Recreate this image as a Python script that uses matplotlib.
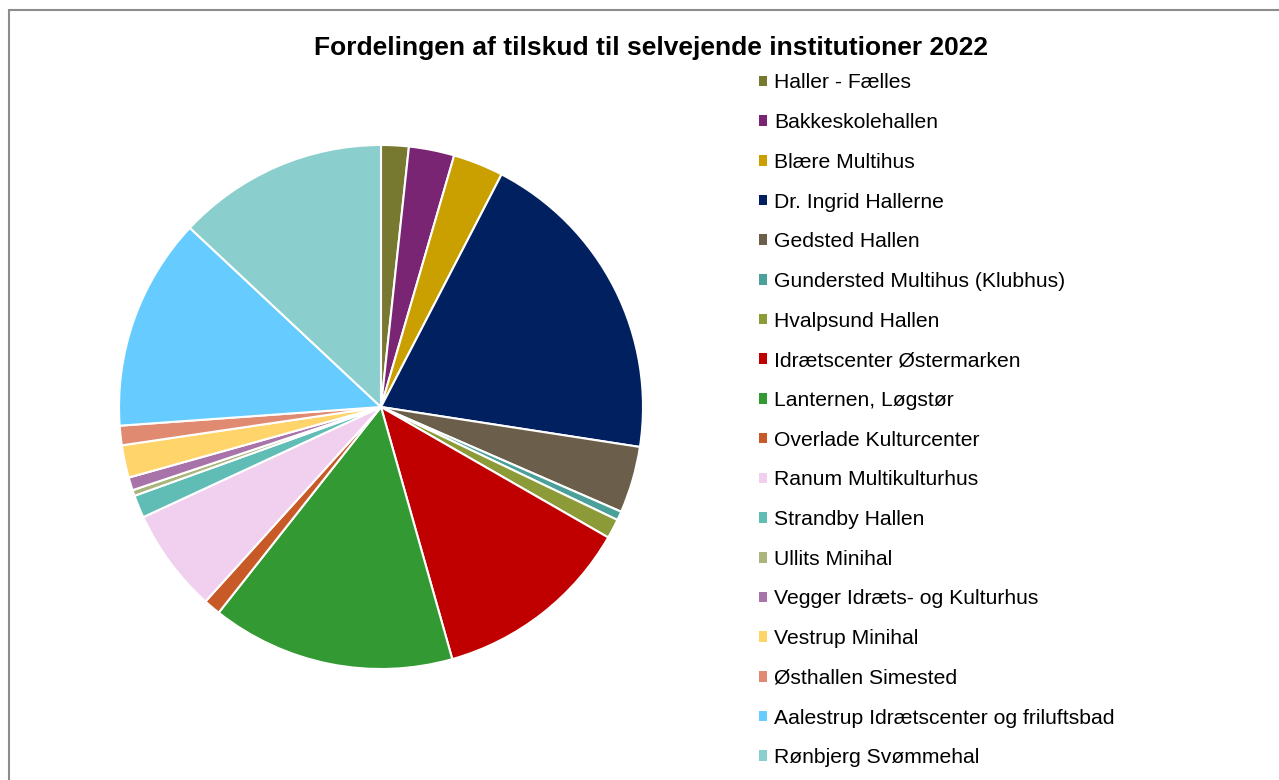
import matplotlib
matplotlib.use("Agg")
import matplotlib.pyplot as plt
from matplotlib.patches import Rectangle

plt.rcParams['font.family'] = ['Liberation Sans', 'DejaVu Sans']

title = "Fordelingen af tilskud til selvejende institutioner 2022"

labels = [
    "Haller - Fælles",
    "Bakkeskolehallen",
    "Blære Multihus",
    "Dr. Ingrid Hallerne",
    "Gedsted Hallen",
    "Gundersted Multihus (Klubhus)",
    "Hvalpsund Hallen",
    "Idrætscenter Østermarken",
    "Lanternen, Løgstør",
    "Overlade Kulturcenter",
    "Ranum Multikulturhus",
    "Strandby Hallen",
    "Ullits Minihal",
    "Vegger Idræts- og Kulturhus",
    "Vestrup Minihal",
    "Østhallen Simested",
    "Aalestrup Idrætscenter og friluftsbad",
    "Rønbjerg Svømmehal",
]

# shares in percent
shares = [1.7, 2.8, 3.1, 19.8, 4.1, 0.55, 1.2, 12.3, 15.0, 1.05,
          6.4, 1.4, 0.36, 0.8, 2.0, 1.2, 13.1, 13.0]

colors = ["#76792F", "#7A2574", "#C9A000", "#002060", "#6B5E4A",
          "#4BA09A", "#8C9A38", "#C00000", "#339933", "#C85A28",
          "#F0D0EE", "#5FBDB5", "#A9B57A", "#A873A8", "#FFD56B",
          "#E08A72", "#66CCFF", "#8ACFCD"]

W, H = 1279, 780
fig = plt.figure(figsize=(W / 100, H / 100), dpi=100)
fig.patch.set_facecolor("white")

# chart-area border (top and left visible)
fig.add_artist(Rectangle((9 / W, -0.1), 1.2, (H - 10.5) / H + 0.1,
                         transform=fig.transFigure, fill=False,
                         edgecolor="#8C8C8C", linewidth=1.5))

cx, cy, r = 381, 407, 262
ax = fig.add_axes([(cx - r) / W, (H - cy - r) / H, 2 * r / W, 2 * r / H])
wedges, _ = ax.pie(shares, colors=colors, startangle=90, counterclock=False,
                   radius=1.0,
                   wedgeprops=dict(edgecolor="white", linewidth=1.5))
ax.set_xlim(-1, 1)
ax.set_ylim(-1, 1)
ax.set_aspect("equal")
ax.axis("off")

fig.text(651 / W, 1 - 48 / H, title, ha="center", va="center",
         fontsize=19, fontweight="bold", color="black")

leg = fig.legend(wedges, labels, loc="upper left",
                 bbox_to_anchor=(759 / W, 1 - 73.5 / H),
                 frameon=False, fontsize=15.2,
                 handlelength=0.4, handleheight=0.4,
                 handletextpad=0.3, labelspacing=0.98,
                 borderaxespad=0, borderpad=0)
for h in leg.legend_handles:
    h.set_edgecolor("none")

fig.savefig("out.png", dpi=100, facecolor="white")
